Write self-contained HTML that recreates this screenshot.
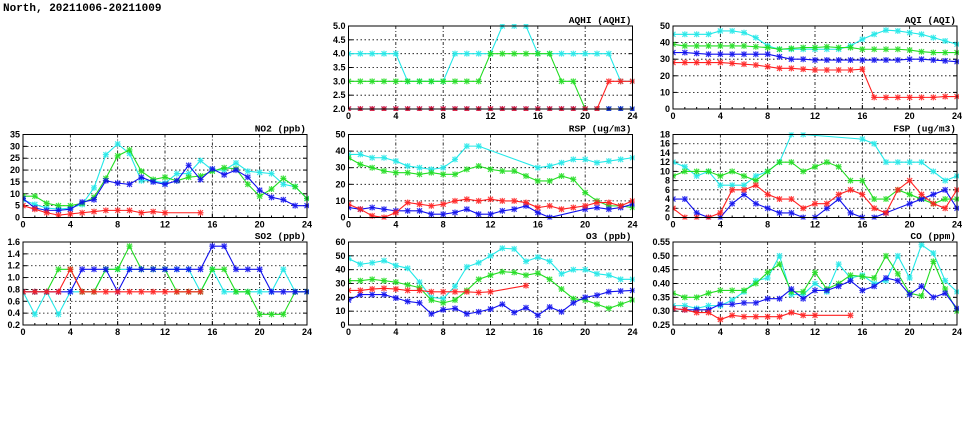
<!DOCTYPE html>
<html><head><meta charset="utf-8"><style>
body{margin:0;background:#fff;width:975px;height:447px;overflow:hidden}
svg{display:block}
text{font-family:"Liberation Sans",sans-serif;font-weight:bold;font-size:9px;fill:#000}
text.ptitle{font-family:"Liberation Mono",monospace;font-size:9.5px}
</style></head><body>
<svg id="chart" width="975" height="447" viewBox="0 0 975 447">
<text x="3" y="11" style="font-size:11px;font-family:'Liberation Mono',monospace">North, 20211006-20211009</text>
</svg>
<script>
const hours = [0,1,2,3,4,5,6,7,8,9,10,11,12,13,14,15,16,17,18,19,20,21,22,23,24];
const seriesColors = ["#22e8e8","#22dd22","#1010ee","#ff2020"];
const seriesNames = ["cyan","green","blue","red"];
const N = null;
const no2Cyan=[7.5,5.5,4,3.5,4,5.5,12.5,26.5,31,27,15.5,15.5,14.5,18.5,18.5,24,20,20,23,19.5,19,18.5,14,13,8];
const no2Green=[9,9,6,5,5,6,8.5,16.5,26,28.5,19.5,16,17,15.5,17,17.5,19.5,21,20.5,14,9,12,16.5,13,8];
const no2Blue=[8,4,3,3,3.5,6.5,7.5,15.5,14.5,14,17,15,14,15.5,22,16,20.5,18,20,17,11.5,8.5,7.5,5,5];
const no2Red=[5,3.5,2,1,1.5,2,2.5,3,3,3,2,2.5,2,N,N,2,N,N,N,N,N,N,N,N,N];
const so2Cyan=[0.76,0.38,0.76,0.38,0.76,0.76,0.76,1.14,1.14,1.14,1.14,1.14,1.14,1.14,1.14,0.76,1.14,0.76,0.76,0.76,0.76,0.76,1.14,0.76,0.76];
const so2Green=[0.76,0.76,0.76,1.14,1.14,0.76,0.76,1.14,1.14,1.53,1.14,1.14,1.14,0.76,0.76,0.76,1.14,1.14,0.76,0.76,0.38,0.38,0.38,0.76,0.76];
const so2Blue=[0.76,0.76,0.76,0.76,0.76,1.14,1.14,1.14,0.76,1.14,1.14,1.14,1.14,1.14,1.14,1.14,1.53,1.53,1.14,1.14,1.14,0.76,0.76,0.76,0.76];
const so2Red=[0.76,0.76,0.76,0.76,1.14,0.76,0.76,0.76,0.76,0.76,0.76,0.76,0.76,0.76,0.76,0.76,N,N,N,N,N,N,N,N,N];
const aqhiCyan=[4,4,4,4,4,3,3,3,3,4,4,4,4,5,5,5,4,4,4,4,4,4,4,3,3];
const aqhiGreen=[3,3,3,3,3,3,3,3,3,3,3,3,4,4,4,4,4,4,3,3,2,2,2,2,2];
const aqhiBlue=[2,2,2,2,2,2,2,2,2,2,2,2,2,2,2,2,2,2,2,2,2,2,2,2,2];
const aqhiRed=[2,2,2,2,2,2,2,2,2,2,2,2,2,2,2,2,2,2,2,2,2,2,3,3,3];
const rspCyan=[38,38,36,36,34,31,30,29,30,35,43,43,N,N,N,N,30,31,33,35,35,33,34,35,36];
const rspGreen=[36,32,30,28,27,27,26,27,26,26,29,31,29,28,28,25,22,22,25,23,15,10,7,7,6];
const rspBlue=[6,5,6,5,4,4,4,2,2,3,5,2,2,4,5,7,3,0,N,N,5,6,5,6,8];
const rspRed=[8,5,1,0,3,9,8,7,8,10,11,10,11,10,10,9,6,7,5,6,7,9,9,7,10];
const aqiCyan=[45,45,45,45,47,47,46,43,38,36,36,36,36,36,36,38,42,45,47.5,47,46,45,43,41,39];
const aqiGreen=[39,38,38,38,38,38,38,37.5,37,36,36.5,37,37,37.5,37,37,36,36,36,36,35.5,34.5,34,34,34];
const aqiBlue=[34,34,33.5,33,33,33,33,33,33,31.5,30,30,29.5,29.5,29.5,29.5,29.5,29.5,29.5,29.5,30,30,29.5,29,28.5];
const aqiRed=[28,28,28,28,28,27.5,27,26.5,25.5,24.5,24.5,24,23.5,23.5,23.5,23.5,24,7,7,7,7,7,7,7.5,7.5];
const fspCyan=[12,11,9,10,7,7,7,9,10,12,18,18,N,N,N,N,17,16,12,12,12,12,10,8,9];
const fspGreen=[9,10,10,10,9,10,9,8,10,12,12,10,11,12,11,8,8,4,4,6,5,4,3,4,4];
const fspBlue=[4,4,1,0,0,3,5,3,2,1,1,0,0,2,4,1,0,0,1,N,3,4,5,6,2];
const fspRed=[2,0,0,0,1,6,6,7,5,4,4,2,3,3,5,6,5,2,1,6,8,5,3,2,6];
const o3Cyan=[48,44,45,46.5,43,41,31,20,19,28,42,45,50,55.5,55,46,49,46,37,40,40,37,36,33,33];
const o3Green=[32,32,33,32,31,29,27,18,16,18,25,33,36,38.5,38,36,37.5,33,26,19,18,15,12,15,18];
const o3Blue=[18,22,22,22,19.5,17,16,8,11,12,8,9.5,11.5,15,9,12.5,7,13,9.5,16,20,21.5,24,24.5,25];
const o3Red=[25,25,26,26.5,26,25,25,24,24,24,24,23.5,24,N,N,28.5,N,N,N,N,N,N,N,N,N];
const coCyan=[0.32,0.32,0.31,0.32,0.32,0.34,0.37,0.41,0.42,0.50,0.36,0.36,0.40,0.37,0.47,0.42,0.43,0.40,0.41,0.50,0.42,0.54,0.51,0.41,0.37];
const coGreen=[0.365,0.35,0.35,0.365,0.375,0.375,0.375,0.40,0.44,0.47,0.37,0.37,0.44,0.38,0.40,0.43,0.425,0.42,0.50,0.435,0.365,0.355,0.48,0.38,0.30];
const coBlue=[0.31,0.305,0.305,0.305,0.325,0.325,0.33,0.33,0.345,0.345,0.38,0.345,0.375,0.375,0.39,0.41,0.375,0.39,0.42,0.41,0.36,0.39,0.35,0.365,0.31];
const coRed=[0.31,0.305,0.295,0.295,0.27,0.285,0.28,0.28,0.28,0.28,0.295,0.285,0.285,N,N,0.285,N,N,N,N,N,N,N,N,N];
const xTicks=[0,4,8,12,16,20,24];
const no2Ticks=[0,5,10,15,20,25,30,35];
const so2Ticks=[0.2,0.4,0.6,0.8,1.0,1.2,1.4,1.6];
const aqhiTicks=[2.0,2.5,3.0,3.5,4.0,4.5,5.0];
const aqiTicks=[0,10,20,30,40,50];
const rspTicks=[0,10,20,30,40,50];
const fspTicks=[0,2,4,6,8,10,12,14,16,18];
const o3Ticks=[0,10,20,30,40,50,60];
const coTicks=[0.25,0.30,0.35,0.40,0.45,0.50,0.55];

const NS="http://www.w3.org/2000/svg";
const svg=document.getElementById('chart');
function mk(tag,attrs,parent){const e=document.createElementNS(NS,tag);for(const k in attrs)e.setAttribute(k,attrs[k]);(parent||svg).appendChild(e);return e;}
const colX=[23,348.5,673], rowY=[26,134.5,242], PW=284, PH=83;
function panel(name,title,col,row,ticks,dec,series){
  const x0=colX[col], y0=rowY[row];
  const g=mk('g',{});
  
  
  const ymin=ticks[0], ymax=ticks[ticks.length-1];
  const sx=h=>x0+h/24*PW;
  const sy=v=>y0+PH-(v-ymin)/(ymax-ymin)*PH;
  ticks.forEach((t,i)=>{
    const y=sy(t);
    if(i>0&&i<ticks.length-1) mk('line',{x1:x0,x2:x0+PW,y1:y,y2:y,stroke:'#000','stroke-width':0.8,'stroke-dasharray':'1.5,2.5'},g);
    mk('line',{x1:x0,x2:x0+4,y1:y,y2:y,stroke:'#000'},g);
    mk('line',{x1:x0+PW-4,x2:x0+PW,y1:y,y2:y,stroke:'#000'},g);
    const tl=mk('text',{x:x0-3,y:y+3,'text-anchor':'end'},g);
    tl.textContent=t.toFixed(dec);
    
    
  });
  for(let h=1;h<24;h++){mk('line',{x1:sx(h),x2:sx(h),y1:y0+PH,y2:y0+PH-(h%4?2:4),stroke:'#000'},g);}
  xTicks.forEach(h=>{
    const x=sx(h);
    if(h>0&&h<24) mk('line',{x1:x,x2:x,y1:y0,y2:y0+PH,stroke:'#000','stroke-width':0.8,'stroke-dasharray':'3,2,1,2'},g);
    const tl=mk('text',{x:x,y:y0+PH+10,'text-anchor':'middle'},g);
    tl.textContent=h;
    
    
  });
  const tt=mk('text',{x:x0+PW-1,y:y0-3,'text-anchor':'end','class':'ptitle'},g);
  tt.textContent=title;
  
  
  const cp=mk('clipPath',{id:'cp'+name},g);
  mk('rect',{x:x0,y:y0-2,width:PW+2,height:PH+4},cp);
  series.forEach((vals,si)=>{
    const sg=mk('g',{'clip-path':'url(#cp'+name+')'},g);
    
    
    const pts=[];
    vals.forEach((v,i)=>{if(v!==null)pts.push([sx(hours[i]),sy(v)]);});
    const pl=mk('polyline',{points:pts.map(p=>p.join(',')).join(' '),fill:'none',stroke:seriesColors[si],'stroke-width':1.1},sg);
    
    
    pts.forEach(p=>{
      const m=mk('path',{d:`M${p[0]-2.5},${p[1]-2.5}L${p[0]+2.5},${p[1]+2.5}M${p[0]-2.5},${p[1]+2.5}L${p[0]+2.5},${p[1]-2.5}M${p[0]-3},${p[1]}L${p[0]+3},${p[1]}M${p[0]},${p[1]-3}L${p[0]},${p[1]+3}`,stroke:seriesColors[si],'stroke-width':1.2,opacity:0.85},sg);
      
      
    });
  });
  mk('rect',{x:x0,y:y0,width:PW,height:PH,fill:'none',stroke:'#000','stroke-width':1},g);
}
panel('aqhi','AQHI (AQHI)',1,0,aqhiTicks,1,[aqhiCyan,aqhiGreen,aqhiBlue,aqhiRed]);
panel('aqi','AQI (AQI)',2,0,aqiTicks,0,[aqiCyan,aqiGreen,aqiBlue,aqiRed]);
panel('no2','NO2 (ppb)',0,1,no2Ticks,0,[no2Cyan,no2Green,no2Blue,no2Red]);
panel('rsp','RSP (ug/m3)',1,1,rspTicks,0,[rspCyan,rspGreen,rspBlue,rspRed]);
panel('fsp','FSP (ug/m3)',2,1,fspTicks,0,[fspCyan,fspGreen,fspBlue,fspRed]);
panel('so2','SO2 (ppb)',0,2,so2Ticks,1,[so2Cyan,so2Green,so2Blue,so2Red]);
panel('o3','O3 (ppb)',1,2,o3Ticks,0,[o3Cyan,o3Green,o3Blue,o3Red]);
panel('co','CO (ppm)',2,2,coTicks,2,[coCyan,coGreen,coBlue,coRed]);
</script>
</body></html>
